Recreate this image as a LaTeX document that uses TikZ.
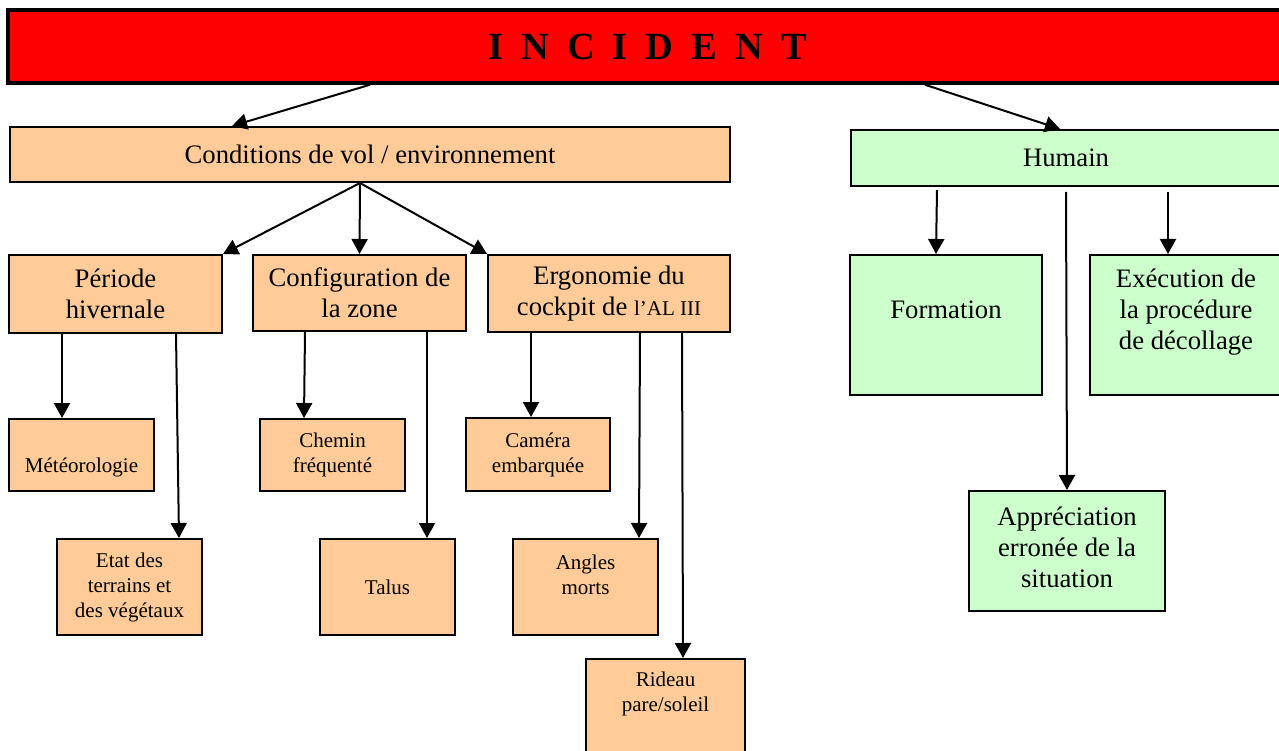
\documentclass[tikz,border=0pt]{standalone}
\usepackage{fontspec}
\setmainfont{Liberation Serif}
\usepackage{tikz}
\usetikzlibrary{arrows.meta}

\definecolor{peach}{HTML}{FFCC99}
\definecolor{mint}{HTML}{CCFFCC}
\newcommand{\bigtxt}{\fontsize{26.7pt}{31pt}\selectfont}
\newcommand{\smalltxt}{\fontsize{21pt}{25pt}\selectfont}

\begin{document}
\begin{tikzpicture}[x=1pt,y=-1pt]
		\useasboundingbox (0,0) rectangle (1279,751);

		\node[draw, line width=3.5pt, fill=red, minimum width=1279pt, minimum height=73pt,
		      font=\fontsize{38.5pt}{40pt}\selectfont\bfseries] (incident) at (647.5,46.5)
		      {\spaceskip=18pt\relax I N C I D E N T};

		\begin{scope}[every node/.style={draw, line width=2pt, fill=peach, align=center, inner sep=0pt, font=\bigtxt},
		              smallbox/.style={font=\smalltxt}]
		    \node[minimum width=720pt, minimum height=55pt] (cond) at (370,154.5) {Conditions de vol / environnement};
		    \node[minimum width=213pt, minimum height=78pt] (periode) at (115.5,294) {Période\\hivernale};
		    \node[minimum width=213pt, minimum height=76pt] (zone) at (359.5,293) {Configuration de\\la zone};
		    \node[minimum width=242pt, minimum height=77pt] (ergo) at (609,293.5) {Ergonomie du\\cockpit de {\smalltxt l'AL III}};
		    \node[smallbox, minimum width=145pt, minimum height=72pt] (meteo) at (81.5,455) {~\\[14pt]Météorologie};
		    \node[smallbox, minimum width=145pt, minimum height=72pt] (chemin) at (332.5,455) {Chemin\\fréquenté};
		    \node[smallbox, minimum width=144pt, minimum height=73pt] (camera) at (538,454.5) {Caméra\\embarquée};
		    \node[smallbox, minimum width=145pt, minimum height=96pt] (etat) at (129.5,587) {Etat des\\terrains et\\des végétaux};
		    \node[smallbox, minimum width=135pt, minimum height=96pt] (talus) at (387.5,587) {Talus};
		    \node[smallbox, minimum width=145pt, minimum height=96pt] (angles) at (585.5,587) {Angles\\morts\\~};
		    \node[smallbox, minimum width=159pt, minimum height=116pt] (rideau) at (665.5,717) {Rideau\\pare/soleil\\~\\~};
		\end{scope}

		\begin{scope}[every node/.style={draw, line width=2pt, fill=mint, align=center, inner sep=0pt, font=\bigtxt}]
		    \node[minimum width=430pt, minimum height=56pt] (humain) at (1066,158) {Humain};
		    \node[minimum width=192pt, minimum height=140pt] (formation) at (946,325) {Formation\\~};
		    \node[minimum width=192pt, minimum height=140pt] (execution) at (1186,325) {Exécution de\\la procédure\\de décollage\\~};
		    \node[minimum width=196pt, minimum height=120pt, text depth=8pt] (apprec) at (1067,551) {Appréciation\\erronée de la\\situation};
		\end{scope}

		\begin{scope}[>={Triangle[length=15pt,width=16pt]},
		              every edge/.style={draw=black, line width=2pt, ->}]
		    \path (incident.south -| cond.north) edge ([xshift=-138pt]cond.north);
		    \path ([xshift=277.5pt]incident.south) edge ([xshift=-6pt]humain.north);
		    \path ([xshift=-10pt]cond.south) edge (periode.north east);
		    \path ([xshift=-10pt]cond.south) edge (zone.north);
		    \path ([xshift=-10pt]cond.south) edge (ergo.north west);
		    \path ([xshift=54pt]periode.south west) edge ([xshift=54pt]meteo.north west);
		    \path ([xshift=168pt]periode.south west) edge ([xshift=123pt]etat.north west);
		    \path ([xshift=53pt]zone.south west) edge ([xshift=45pt]chemin.north west);
		    \path ([xshift=175pt]zone.south west) edge ([xshift=108pt]talus.north west);
		    \path ([xshift=44pt]ergo.south west) edge ([xshift=66pt]camera.north west);
		    \path ([xshift=153pt]ergo.south west) edge ([xshift=127pt]angles.north west);
		    \path ([xshift=195pt]ergo.south west) edge ([xshift=98pt]rideau.north west);
		    \path ([xshift=87pt,yshift=-3pt]humain.south west) edge ([xshift=87pt]formation.north west);
		    \path ([yshift=-5pt]humain.south) edge (apprec.north);
		    \path ([xshift=318pt,yshift=-5pt]humain.south west) edge ([xshift=79pt]execution.north west);
		\end{scope}
\end{tikzpicture}
\end{document}
